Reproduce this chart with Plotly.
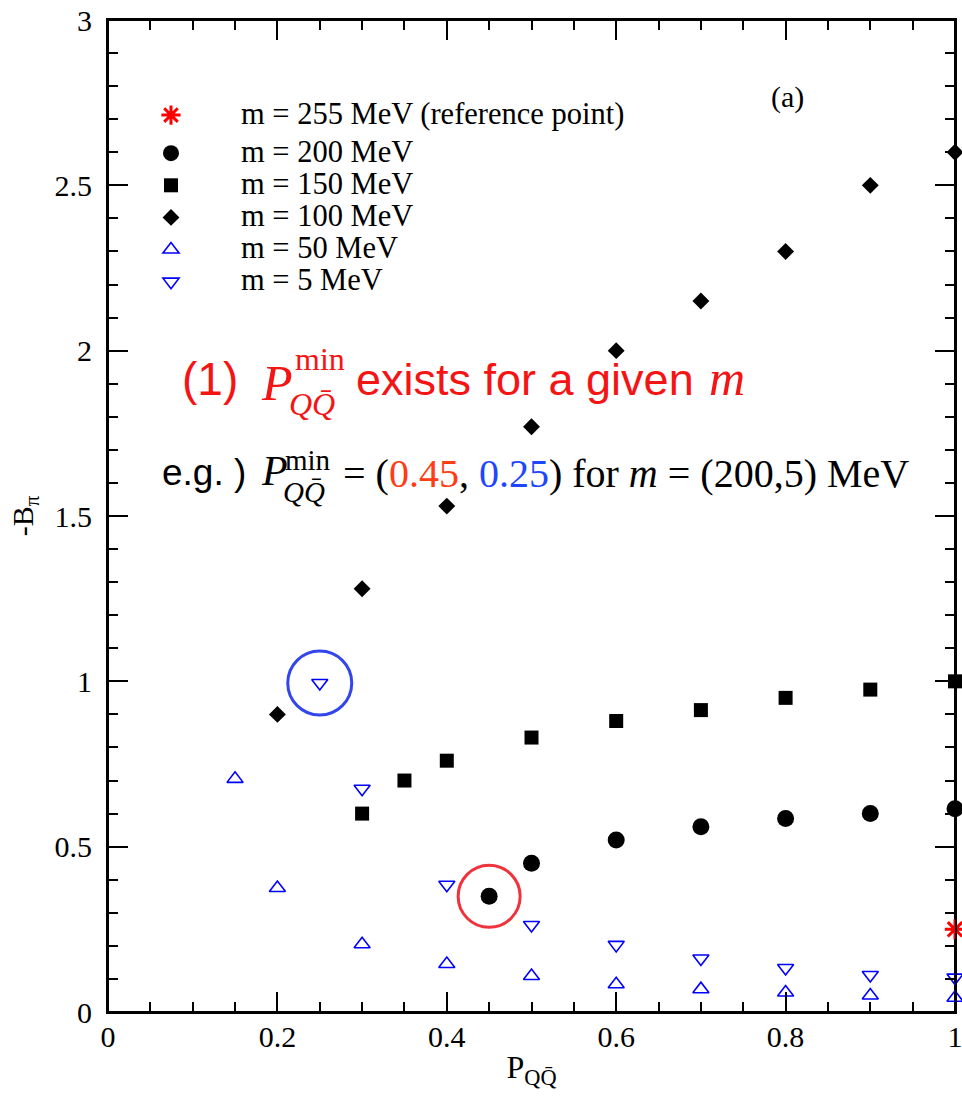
import plotly.graph_objects as go

# ---- data ----
ref_x = [1.0]
ref_y = [0.25]

m200_x = [0.45, 0.5, 0.6, 0.7, 0.8, 0.9, 1.0]
m200_y = [0.35, 0.45, 0.52, 0.56, 0.585, 0.60, 0.615]

m150_x = [0.3, 0.35, 0.4, 0.5, 0.6, 0.7, 0.8, 0.9, 1.0]
m150_y = [0.60, 0.70, 0.76, 0.83, 0.88, 0.913, 0.95, 0.975, 1.0]

m100_x = [0.2, 0.3, 0.4, 0.5, 0.6, 0.7, 0.8, 0.9, 1.0]
m100_y = [0.90, 1.28, 1.53, 1.77, 2.0, 2.15, 2.30, 2.50, 2.60]

m50_x = [0.15, 0.2, 0.3, 0.4, 0.5, 0.6, 0.7, 0.8, 0.9, 1.0]
m50_y = [0.705, 0.375, 0.205, 0.145, 0.109, 0.084, 0.069, 0.059, 0.05, 0.043]

m5_x = [0.25, 0.3, 0.4, 0.5, 0.6, 0.7, 0.8, 0.9, 1.0]
m5_y = [0.995, 0.675, 0.385, 0.263, 0.203, 0.162, 0.133, 0.112, 0.104]

# highlighted minima (P_min for m=200 and m=5)
hl_red = (0.45, 0.35)
hl_blue = (0.25, 0.995)

SERIF = "Liberation Serif"
SANS = "Liberation Sans"
BLUE = "#0000ff"
LEG_FS = 30.5

fig = go.Figure()

def add(name, group, x, y, symbol, size, color, line_w=0, line_color=None):
    fig.add_trace(go.Scatter(
        x=x, y=y, mode="markers",
        name=f"<span style='font-size:{LEG_FS}px'>{name}</span>",
        legendgroup=group, cliponaxis=False,
        marker=dict(symbol=symbol, size=size, color=color,
                    line=dict(width=line_w, color=line_color or color)),
    ))

add("m = 255 MeV (reference point)", "ref", ref_x, ref_y, "asterisk-open", 17, "red", 3, "red")
add("m = 200 MeV", "main", m200_x, m200_y, "circle", 17, "black")
add("m = 150 MeV", "main", m150_x, m150_y, "square", 14, "black")
add("m = 100 MeV", "main", m100_x, m100_y, "diamond", 13, "black")
add("m = 50 MeV", "main", m50_x, m50_y, "triangle-up-open", 14, BLUE, 1.6, BLUE)
add("m = 5 MeV", "main", m5_x, m5_y, "triangle-down-open", 14, BLUE, 1.6, BLUE)

# circles around highlighted points
for (cx, cy), col, r in [(hl_blue, "rgb(50,70,235)", 32), (hl_red, "rgb(240,50,60)", 31)]:
    fig.add_shape(type="circle", xref="x", yref="y",
                  xsizemode="pixel", ysizemode="pixel",
                  xanchor=cx, yanchor=cy, x0=-r, x1=r, y0=-r, y1=r,
                  line=dict(color=col, width=3))

# frame around the plot area
fig.add_shape(type="rect", xref="x domain", yref="y domain", x0=0, x1=1, y0=0, y1=1,
              line=dict(color="black", width=2), layer="below")

# plot area in page pixels (body margin removed below)
L, R, T, B = 108, 955, 20, 1012
W, H = 962, 1096
def px(x):
    return (x - L) / (R - L)
def py(y):
    return (B - y) / (B - T)

def ann(text, x, y, size, color="black", family=SERIF, xanchor="left"):
    fig.add_annotation(text=text, xref="paper", yref="paper",
                       x=px(x), y=py(y), xanchor=xanchor, yanchor="middle",
                       showarrow=False, borderpad=0,
                       font=dict(family=family, size=size, color=color))

RED = "rgb(245,20,20)"
ann("(a)", 770, 97, 30)
# line 1
ann("(1)", 181, 379, 46, RED, SANS)
ann("<i>P</i>", 260, 383, 50, RED)
ann("min", 294, 359, 32, RED)
ann("<i>QQ̄</i>", 288, 404, 32, RED)
ann("exists for a given", 355, 379, 45, RED, SANS)
ann("<i>m</i>", 708, 378, 50, RED)
# line 2
ann("e.g. )", 161, 472, 37, "black", SANS)
ann("<i>P</i>", 260, 471, 42)
ann("min", 284, 460, 29)
ann("<i>QQ̄</i>", 282, 492, 29)
ann("= (<span style='color:rgb(255,60,20)'>0.45</span>, "
    "<span style='color:rgb(30,70,255)'>0.25</span>) for <i>m</i> = (200,5) MeV",
    342, 473, 40)

axis_common = dict(
    showline=True, linecolor="black", linewidth=2, mirror="allticks",
    ticks="inside", ticklen=20, tickwidth=1.5, tickcolor="black",
    showgrid=False, zeroline=False, automargin=False,
    ticklabeloverflow="allow",
    tickfont=dict(family=SERIF, size=30, color="black"),
)

fig.update_xaxes(range=[0, 1], dtick=0.2, tick0=0, ticklabelstandoff=-3,
                 minor=dict(dtick=0.05, ticks="inside", ticklen=10, tickwidth=1.5, tickcolor="black"),
                 title=dict(text="P<sub>QQ̄</sub>", font=dict(family=SERIF, size=32, color="black"), standoff=4),
                 **axis_common)
fig.update_yaxes(range=[0, 3], dtick=0.5, tick0=0, ticklabelstandoff=8,
                 minor=dict(dtick=0.1, ticks="inside", ticklen=10, tickwidth=1.5, tickcolor="black"),
                 title=dict(text="-B<sub>π</sub>", font=dict(family=SERIF, size=30, color="black"), standoff=12),
                 **axis_common)

fig.update_layout(
    width=W, height=H,
    margin=dict(l=L, r=W - R, t=T, b=H - B),
    plot_bgcolor="white", paper_bgcolor="white",
    showlegend=True,
    legend=dict(x=px(101), y=py(94), xanchor="left", yanchor="top",
                font=dict(family=SERIF, size=22.4, color="black"),
                bgcolor="rgba(0,0,0,0)", itemwidth=130, tracegroupgap=6,
                traceorder="grouped"),
)

fig.write_html("out.html",
               config={"displayModeBar": False},
               post_script="document.body.style.margin='0px';document.body.style.overflow='hidden';")
